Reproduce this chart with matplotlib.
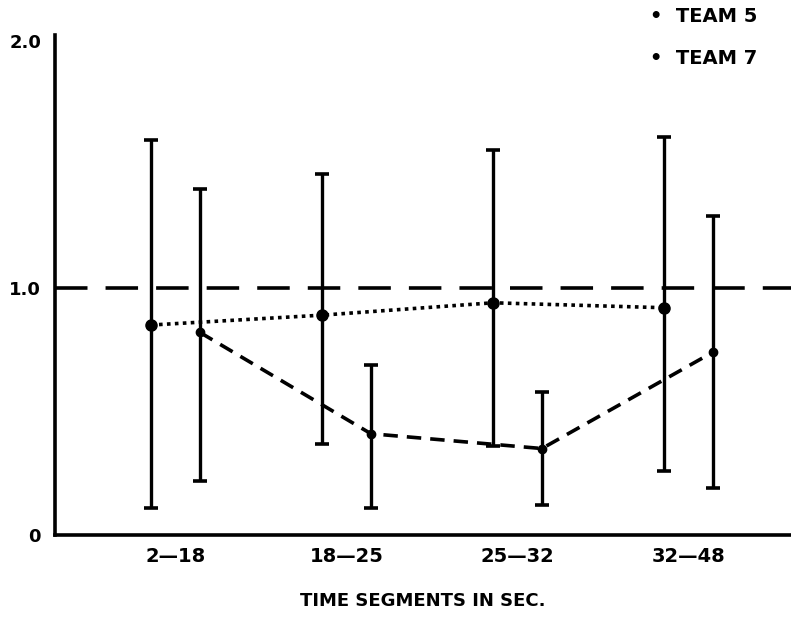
import matplotlib
matplotlib.use("Agg")
import matplotlib.pyplot as plt
import numpy as np

segments = ["2\u201418", "18\u201425", "25\u201432", "32\u201448"]
team5_mean = [0.85, 0.89, 0.94, 0.92]
team5_low = [0.11, 0.37, 0.36, 0.26]
team5_high = [1.60, 1.46, 1.56, 1.61]
team7_mean = [0.82, 0.41, 0.35, 0.74]
team7_low = [0.22, 0.11, 0.12, 0.19]
team7_high = [1.40, 0.69, 0.58, 1.29]

plt.rcParams["font.family"] = ["DejaVu Sans"]
plt.rcParams["font.weight"] = "heavy"

fig = plt.figure(figsize=(7.91, 6.18), dpi=100)
ax = fig.add_axes([55 / 791, 83 / 618, 736 / 791, 500 / 618])

x = np.arange(len(segments))
off = 0.143

ax.axhline(1.0, color="black", lw=2.6, dashes=(9, 5), zorder=1)

m5 = np.array(team5_mean)
m7 = np.array(team7_mean)
err5 = [m5 - np.array(team5_low), np.array(team5_high) - m5]
err7 = [m7 - np.array(team7_low), np.array(team7_high) - m7]

ax.errorbar(x - off, m5, yerr=err5, fmt="none", ecolor="black",
            elinewidth=2.4, capsize=5, capthick=2.6, zorder=2)
ax.errorbar(x + off, m7, yerr=err7, fmt="none", ecolor="black",
            elinewidth=2.4, capsize=5, capthick=2.6, zorder=2)

ax.plot(x - off, m5, color="black", lw=2.6, linestyle=(0, (1, 1.2)),
        marker="o", markersize=8, zorder=3)
ax.plot(x + off, m7, color="black", lw=2.6, dashes=(4, 2.5),
        marker="o", markersize=6, zorder=3)

ax.set_xlim(-0.705, 3.60)
ax.set_ylim(0, 2.024)
ax.set_xticks(x)
ax.set_xticklabels(segments, fontsize=14, fontweight="heavy")
ax.set_yticks([0, 1.0, 2.0])
ax.set_yticklabels(["0", "1.0", "2.0"], fontsize=13, fontweight="heavy")
ax.tick_params(axis="x", length=0, pad=9)
ax.tick_params(axis="y", length=0, pad=10)
ax.set_xlabel("TIME SEGMENTS IN SEC.", fontsize=13, fontweight="heavy", labelpad=18)

for s in ["top", "right"]:
    ax.spines[s].set_visible(False)
for s in ["left", "bottom"]:
    ax.spines[s].set_linewidth(2.6)

fig.text(650 / 791, 1 - 16 / 618, "\u2022  TEAM 5", fontsize=14, fontweight="heavy",
         va="center", ha="left")
fig.text(650 / 791, 1 - 58 / 618, "\u2022  TEAM 7", fontsize=14, fontweight="heavy",
         va="center", ha="left")

fig.savefig("out.png", dpi=100)
